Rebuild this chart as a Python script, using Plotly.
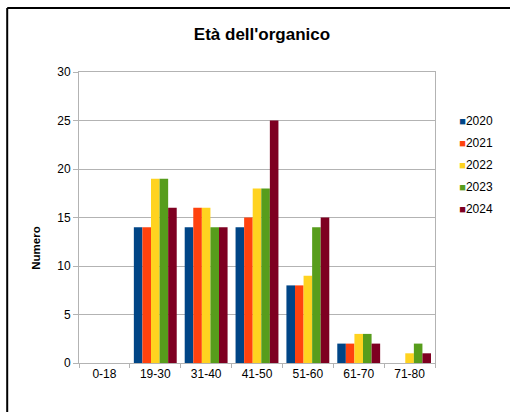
import plotly.graph_objects as go

categories = ["0-18", "19-30", "31-40", "41-50", "51-60", "61-70", "71-80"]
years = ["2020", "2021", "2022", "2023", "2024"]
v2020 = [0, 14, 14, 14, 8, 2, 0]
v2021 = [0, 14, 16, 15, 8, 2, 0]
v2022 = [0, 19, 16, 18, 9, 3, 1]
v2023 = [0, 19, 14, 18, 14, 3, 2]
v2024 = [0, 16, 14, 25, 15, 2, 1]
series = [v2020, v2021, v2022, v2023, v2024]
colors = ["#004586", "#ff420e", "#ffd320", "#579d1c", "#7e0021"]

W, H = 510, 412
ml, mr, mt, mb = 79, 69, 72, 49

fig = go.Figure()
for name, vals, col in zip(years, series, colors):
    fig.add_trace(go.Bar(x=categories, y=vals, name=name, marker=dict(color=col, line=dict(width=0)),
                         showlegend=False))
for name, col in zip(years, colors):
    label = f"<span style='color:{col};font-size:11px'>■</span>{name}"
    fig.add_trace(go.Scatter(x=[None], y=[None], mode="markers", name=label, legendgroup=name,
                             marker=dict(size=1, color="rgba(0,0,0,0)")))

font = "Liberation Sans, Arial, sans-serif"
pw = W - ml - mr
ph = H - mt - mb
def px_x(x):
    return (x - ml) / pw
def px_y(y):
    return (H - mb - y) / ph

fig.update_layout(
    width=W, height=H,
    margin=dict(l=ml, r=mr, t=mt, b=mb),
    paper_bgcolor="white", plot_bgcolor="white",
    barmode="group", bargap=0.157, bargroupgap=0,
    font=dict(family=font, size=12, color="#000000"),
    title=dict(text="<b>Età dell'organico</b>", x=262 / W, xanchor="center",
               y=1 - 34 / H, yanchor="middle", font=dict(size=17, family=font, color="#000000")),
    xaxis=dict(showgrid=False, showline=True, linecolor="#b3b3b3", mirror=True,
               ticks="outside", tickson="boundaries", ticklen=4, tickcolor="#b3b3b3",
               tickfont=dict(size=12, color="#000000")),
    yaxis=dict(range=[0, 30], dtick=5, showgrid=True, gridcolor="#b3b3b3", gridwidth=1,
               showline=True, linecolor="#b3b3b3", mirror=True, zeroline=False,
               ticks="outside", ticklen=5, tickcolor="#b3b3b3",
               tickfont=dict(size=12, color="#000000")),
    legend=dict(x=px_x(425), y=px_y(106), xanchor="left", yanchor="top",
                font=dict(size=12, color="#000000"), itemwidth=30,
                tracegroupgap=3, bgcolor="rgba(0,0,0,0)"),
    annotations=[dict(text="<b>Numero</b>", textangle=-90, x=px_x(35), y=px_y(248),
                      xanchor="center", yanchor="middle",
                      xref="paper", yref="paper", showarrow=False,
                      font=dict(size=11.5, family=font, color="#000000"))],
    shapes=[
        dict(type="line", xref="paper", yref="paper", x0=px_x(6), x1=px_x(6), y0=px_y(8), y1=px_y(420),
             line=dict(color="#000000", width=2)),
        dict(type="line", xref="paper", yref="paper", x0=px_x(6), x1=px_x(520), y0=px_y(8), y1=px_y(8),
             line=dict(color="#000000", width=2)),
    ],
)

fig.write_html("out.html", config={"displayModeBar": False},
               post_script="document.body.style.margin='0';document.body.style.overflow='hidden';")
